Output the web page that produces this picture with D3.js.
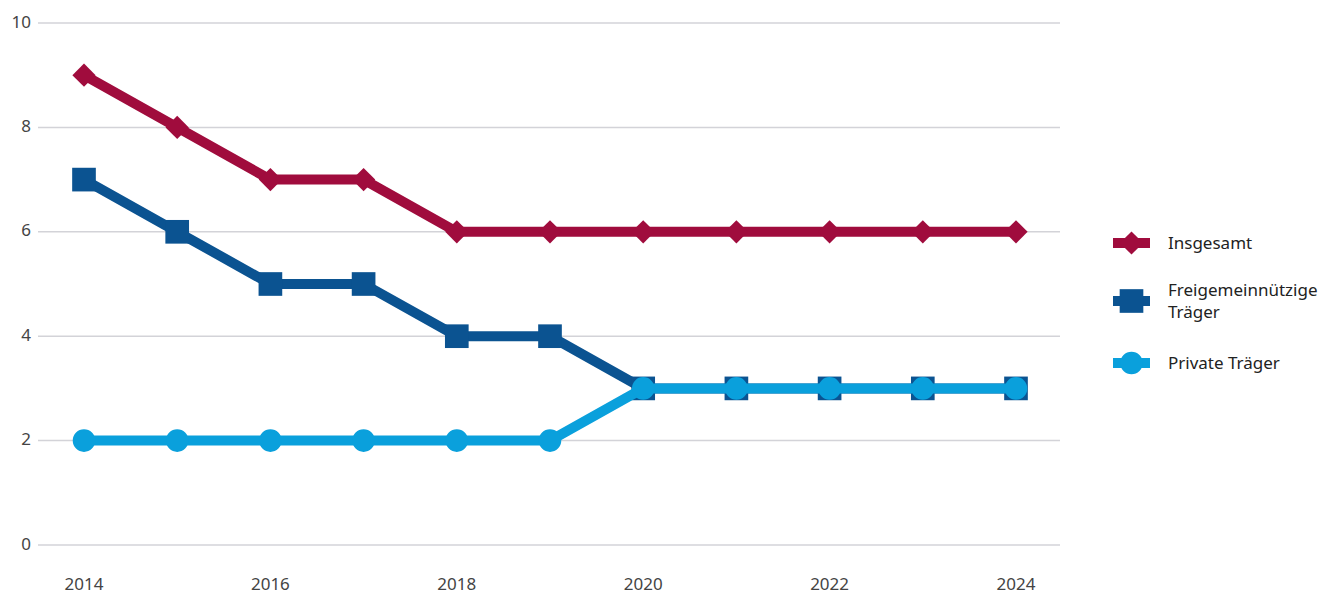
<!DOCTYPE html>
<html>
<head>
<meta charset="utf-8">
<script src="https://cdn.jsdelivr.net/npm/d3@7/dist/d3.min.js"></script>
<style>
  body { margin: 0; background: #fff; }
  svg { font-family: "Noto Sans", "Open Sans", sans-serif; }
</style>
</head>
<body>
<svg id="chart" width="1342" height="594"></svg>
<script>
const years = [2014, 2015, 2016, 2017, 2018, 2019, 2020, 2021, 2022, 2023, 2024];
const insgesamt = [9, 8, 7, 7, 6, 6, 6, 6, 6, 6, 6];
const freigemeinnuetzig = [7, 6, 5, 5, 4, 4, 3, 3, 3, 3, 3];
const privat = [2, 2, 2, 2, 2, 2, 3, 3, 3, 3, 3];
const yTicks = [0, 2, 4, 6, 8, 10];
const xTicks = [2014, 2016, 2018, 2020, 2022, 2024];

const series = [
  {name: ['Insgesamt'], values: insgesamt, color: '#a00c3d', symbol: d3.symbolSquare, size: 270, rot: 45},
  {name: ['Freigemeinnützige', 'Träger'], values: freigemeinnuetzig, color: '#0b5391', symbol: d3.symbolSquare, size: 560, rot: 0},
  {name: ['Private Träger'], values: privat, color: '#0aa0dc', symbol: d3.symbolCircle, size: 400, rot: 0}
];

const svg = d3.select('#chart');
const x = d3.scaleLinear().domain([2014, 2024]).range([84, 1016]);
const y = d3.scaleLinear().domain([0, 10]).range([545, 23]);

// grid
svg.append('g').selectAll('line').data(yTicks).join('line')
  .attr('x1', 38).attr('x2', 1060)
  .attr('y1', d => y(d)).attr('y2', d => y(d))
  .attr('stroke', '#d3d3d8').attr('stroke-width', 1.5);

svg.append('g').selectAll('text').data(yTicks).join('text')
  .attr('x', 31).attr('y', d => y(d)).attr('text-anchor', 'end').attr('dominant-baseline', 'middle')
  .attr('fill', '#444').style('font-size', '17px').text(d => d);

svg.append('g').selectAll('text').data(xTicks).join('text')
  .attr('x', d => x(d)).attr('y', 590).attr('text-anchor', 'middle')
  .attr('fill', '#444').style('font-size', '17px').text(d => d);

const line = d3.line().x((d, i) => x(years[i])).y(d => y(d));

series.forEach(s => {
  const g = svg.append('g');
  g.append('path').datum(s.values).attr('d', line)
    .attr('fill', 'none').attr('stroke', s.color).attr('stroke-width', 10).attr('stroke-linejoin', 'round');
  g.selectAll('path.m').data(s.values).join('path').attr('class', 'm')
    .attr('transform', (d, i) => `translate(${x(years[i])},${y(d)}) rotate(${s.rot})`)
    .attr('d', d3.symbol().type(s.symbol).size(s.size)).attr('fill', s.color);
});

// legend
const legendY = [243, 301, 363];
series.forEach((s, i) => {
  const g = svg.append('g').attr('transform', `translate(1113,${legendY[i]})`);
  g.append('line').attr('x1', 0).attr('x2', 37).attr('stroke', s.color).attr('stroke-width', 10);
  g.append('path').attr('transform', `translate(18.5,0) rotate(${s.rot})`)
    .attr('d', d3.symbol().type(s.symbol).size(s.size)).attr('fill', s.color);
  const t = g.append('text').attr('x', 55).attr('fill', '#222').style('font-size', '17px');
  s.name.forEach((n, k) => {
    t.append('tspan').attr('x', 55).attr('y', s.name.length > 1 ? (k === 0 ? -5 : 17) : 6).text(n);
  });
});
</script>
</body>
</html>
